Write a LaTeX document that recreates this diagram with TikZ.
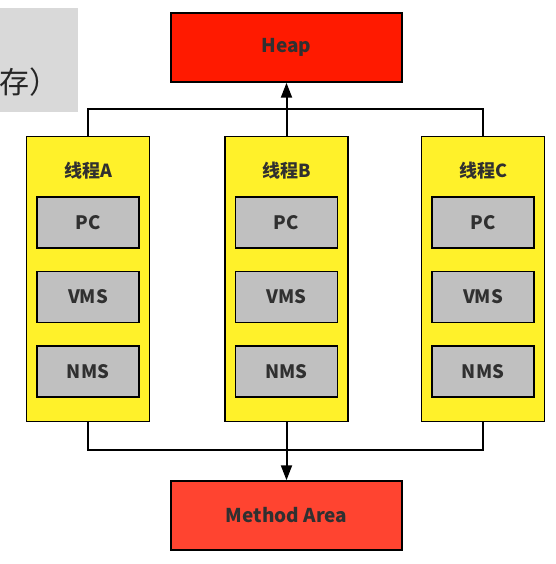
\documentclass[tikz,border=0pt]{standalone}
\usepackage{fontspec}
\setmainfont{Noto Sans CJK SC}
\usetikzlibrary{arrows.meta, positioning, calc}

\definecolor{heapred}{HTML}{FF1A00}
\definecolor{methodred}{HTML}{FF4430}
\definecolor{threadyellow}{HTML}{FFF12A}
\definecolor{slotgray}{HTML}{C0C0C0}
\definecolor{bannergray}{HTML}{D9D9D9}
\definecolor{labeltext}{HTML}{303030}

\begin{document}
\begin{tikzpicture}[
        x=1pt, y=-1pt,
        node distance=22pt,
        area/.style={rectangle, draw=black, line width=1.5pt, minimum width=231pt, minimum height=69pt, text=labeltext, font=\bfseries\fontsize{19}{22}\selectfont},
        thread/.style={rectangle, draw=black, line width=1.5pt, fill=threadyellow, minimum width=123pt, minimum height=285pt},
        caption/.style={text=labeltext, font=\bfseries\fontsize{18}{21}\selectfont},
        slot/.style={rectangle, draw=black, line width=1.5pt, fill=slotgray, minimum width=102pt, minimum height=51pt, text=labeltext, font=\bfseries\fontsize{18.5}{21}\selectfont},
        link/.style={line width=2pt},
        flow/.style={-{Triangle[length=15pt, width=11pt]}, line width=2pt}
    ]
        \useasboundingbox (0,0) rectangle (555,564);

        % Titel-Rest oben links
        \node[rectangle, fill=bannergray, minimum width=78pt, minimum height=104pt, anchor=north west] (banner) at (0,8) {};
        \node[anchor=east, text=black!85, font=\fontsize{30}{33}\selectfont] (bannertext) at (63,82) {存）};

        % Speicherbereiche
        \node[area, fill=heapred] (heap) at (286.5,47.5) {Heap};
        \node[thread, below=53pt of heap] (threadB) {};
        \node[thread, left=74pt of threadB] (threadA) {};
        \node[thread, right=72pt of threadB] (threadC) {};
        \node[area, fill=methodred, below=58pt of threadB] (method) {Method Area};

        % Innenleben der Threads
        \foreach \t in {A, B, C} {
            \node[caption] (title\t) at ($(thread\t.north)+(0,35)$) {线程\t};
            \node[slot] (pc\t) at ($(thread\t.north)+(0,86.5)$) {PC};
            \node[slot, below=of pc\t] (vms\t) {VMS};
            \node[slot, below=of vms\t] (nms\t) {NMS};
        }

        % Verbindungen
        \coordinate (topjoin) at ($(threadB.north)+(0,-27)$);
        \coordinate (bottomjoin) at ($(threadB.south)+(0,28)$);
        \draw[link] (threadA.north) |- (topjoin) -| (threadC.north);
        \draw[link] (threadA.south) |- (bottomjoin) -| (threadC.south);
        \draw[flow] (threadB.north) -- (heap.south);
        \draw[flow] (threadB.south) -- (method.north);

    \end{tikzpicture}
\end{document}
